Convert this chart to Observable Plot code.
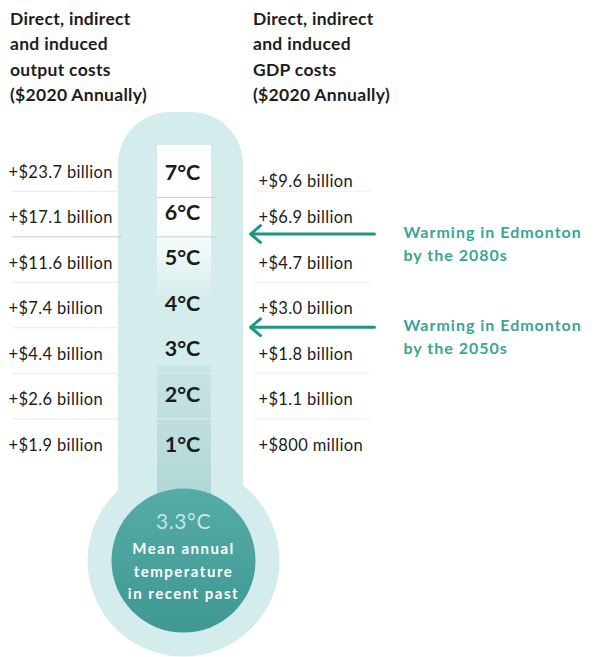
<!DOCTYPE html>
<html><head><meta charset="utf-8">
<script src="https://cdn.jsdelivr.net/npm/d3@7"></script>
<script src="https://cdn.jsdelivr.net/npm/@observablehq/plot@0.6"></script>
<style>
body{margin:0;background:#fff;font-family:Lato,sans-serif;}
#wrap{position:relative;width:594px;height:657px;overflow:hidden;}
.hdr{position:absolute;top:6px;font-weight:700;font-size:17.5px;line-height:25.3px;color:#1d1d1d;letter-spacing:0.3px;white-space:nowrap}
#chart{position:absolute;left:0;top:108px;}
</style></head><body>
<div id="wrap">
<div class="hdr" style="left:10px">Direct, indirect<br>and induced<br>output costs<br>($2020 Annually)</div>
<div class="hdr" style="left:253px">Direct, indirect<br>and induced<br>GDP costs<br>($2020 Annually)</div>
<div id="chart"></div>
</div>
<script>
// ---- data ----
const warming = [7, 6, 5, 4, 3, 2, 1];
const outputCostBillions = [23.7, 17.1, 11.6, 7.4, 4.4, 2.6, 1.9];
const gdpCostBillions = [9.6, 6.9, 4.7, 3.0, 1.8, 1.1, 0.8];
const projectionDecades = ["2080s", "2050s"];
const projectionWarming = [5.65, 3.6];
const recentMeanTemp = 3.3;

// ---- derived tables ----
const fmt = v => v >= 1 ? `+$${v.toFixed(1)} billion` : `+$${Math.round(v * 1000)} million`;
const rows = warming.map((w, i) => ({w, out: outputCostBillions[i], gdp: gdpCostBillions[i]}));
const notes = projectionDecades.map((d, i) => ({decade: d, w: projectionWarming[i]}));
const seps = warming.slice(1).map(w => w + 0.5);

// ---- layout (pixels along x, degrees along y) ----
const X = {out: 8, temp: 182, gdp: 258, note: 403, tail: 374, tip: 250};
const tube = {x1: 118, x2: 243, top: 8.32, bottom: -1.5};
const col = {x1: 157, x2: 211, top: 7.6, fadeBottom: 4.2, mercTop: 2.75};
const bulb = {x: 183, y: -1.53};
const tubeFill = "#d5ecec";
const ink = "#1c1c1c", inkT = "#1b1b1b", noteInk = "#3aa594", bulbInk = "#ffffff", bulbInk2 = "#c4e6e4";

const plot = Plot.plot({
  width: 594, height: 549, margin: 0,
  x: {domain: [0, 594], axis: null},
  y: {domain: [-3.66, 8.41], axis: null},
  style: {fontFamily: "Lato, sans-serif", background: "transparent", overflow: "visible"},
  marks: [
    // thermometer glass
    Plot.rect([tube], {x1: "x1", x2: "x2", y1: "bottom", y2: "top", rx: 52, fill: tubeFill}),
    Plot.dot([bulb], {x: "x", y: "y", r: 96, fill: tubeFill}),
    Plot.rect([col], {x1: "x1", x2: "x2", y1: "fadeBottom", y2: "top", fill: "url(#colFade)"}),
    Plot.rect([col], {x1: "x1", x2: "x2", y1: () => bulb.y, y2: "mercTop", fill: "url(#merc)"}),
    Plot.dot([bulb], {x: "x", y: "y", r: 72, fill: "url(#bulbFill)"}),
    // separators
    Plot.ruleY(seps, {y: d => d, x1: 12, x2: 122, stroke: d => d === 5.5 ? "#c9c9c9" : "#ececec", dy: -4}),
    Plot.ruleY(seps.filter(d => d === 6.5), {y: d => d, x1: 157, x2: 216, stroke: "#c9c9c9", dy: 2}),
    Plot.ruleY(seps.filter(d => d < 6.5), {y: d => d, x1: 157, x2: 216, stroke: d => d === 5.5 ? "#c9c9c9" : "#e3eded", dy: -4}),
    Plot.ruleY(seps, {y: d => d, x1: 256, x2: 372, stroke: "#f2f2f2", dy: -4}),
    // cost labels
    Plot.text(rows, {x: X.out, y: "w", text: d => fmt(d.out), textAnchor: "start", fontSize: 16.5, fill: ink}),
    Plot.text(rows.filter(d => d.w !== 7), {x: X.gdp, y: "w", text: d => fmt(d.gdp), textAnchor: "start", fontSize: 16.5, fill: ink}),
    Plot.text(rows.filter(d => d.w === 7), {x: X.gdp, y: "w", text: d => fmt(d.gdp), textAnchor: "start", fontSize: 16.5, fill: ink, dy: 9}),
    // temperature labels
    Plot.text(rows.filter(d => d.w === 7 || d.w === 1), {x: X.temp, y: "w", text: d => `${d.w}°C`, fontSize: 21.5, fontWeight: 700, fill: inkT}),
    Plot.text(rows.filter(d => d.w !== 7 && d.w !== 1), {x: X.temp, y: "w", text: d => `${d.w}°C`, fontSize: 21.5, fontWeight: 700, fill: inkT, dy: -5}),
    // projections
    Plot.arrow(notes, {x1: X.tail, x2: X.tip, y1: "w", y2: "w", stroke: "#1f9683", strokeWidth: 3, headLength: 6.5, headAngle: 80, bend: 0}),
    Plot.text(notes, {x: X.note, y: "w", text: d => `Warming in Edmonton\nby the ${d.decade}`, textAnchor: "start", lineAnchor: "middle", lineHeight: 1.45, dy: 8, fontSize: 16, fontWeight: 700, fill: noteInk}),
    // bulb label
    Plot.text([bulb], {x: "x", y: "y", text: () => `${recentMeanTemp}°C`, fontSize: 21, fill: bulbInk2, dy: -38}),
    Plot.text([bulb], {x: "x", y: "y", text: () => "Mean annual\ntemperature\nin recent past", fontSize: 15, fontWeight: 700, fill: bulbInk, lineHeight: 1.5, dy: 9})
  ]
});

const svg = d3.select(plot);
svg.selectAll(`g[fill="${ink}"]`).attr("letter-spacing", "0.35px");
svg.selectAll(`g[fill="${noteInk}"]`).attr("letter-spacing", "1px");
svg.selectAll(`g[fill="${bulbInk}"]`).attr("letter-spacing", "1.5px");
svg.selectAll(`g[fill="${bulbInk2}"]`).attr("letter-spacing", "0.6px");

const defs = svg.insert("defs", ":first-child");
const g1 = defs.append("linearGradient").attr("id", "colFade").attr("x1", 0).attr("y1", 0).attr("x2", 0).attr("y2", 1);
g1.append("stop").attr("offset", 0).attr("stop-color", "#ffffff");
g1.append("stop").attr("offset", 0.5).attr("stop-color", "#ffffff");
g1.append("stop").attr("offset", 1).attr("stop-color", tubeFill);
const g2 = defs.append("linearGradient").attr("id", "merc").attr("x1", 0).attr("y1", 0).attr("x2", 0).attr("y2", 1);
g2.append("stop").attr("offset", 0).attr("stop-color", "#c8e4e3");
g2.append("stop").attr("offset", 1).attr("stop-color", "#a6d1cf");
const g3 = defs.append("linearGradient").attr("id", "bulbFill").attr("x1", 0).attr("y1", 0).attr("x2", 0).attr("y2", 1);
g3.append("stop").attr("offset", 0).attr("stop-color", "#55aba7");
g3.append("stop").attr("offset", 1).attr("stop-color", "#3f9893");

document.getElementById("chart").appendChild(plot);
</script>
</body></html>
